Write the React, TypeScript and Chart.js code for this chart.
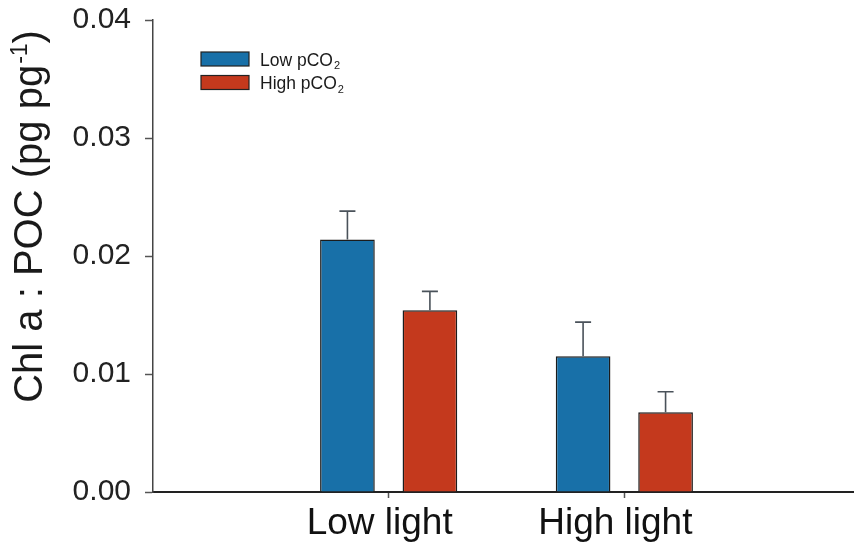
import React, { useEffect, useRef } from "react";
import { Chart, registerables } from "chart.js";

Chart.register(...registerables);

const categories = ["", "Low light", "High light", ""];
const seriesNames = ["Low pCO₂", "High pCO₂"];
const lowCO2 = [null, 0.0214, 0.0115, null];
const highCO2 = [null, 0.0154, 0.00675, null];
const lowCO2Err = [null, 0.0024, 0.0029, null];
const highCO2Err = [null, 0.0016, 0.00175, null];
const yTicks = [0, 0.01, 0.02, 0.03, 0.04];
const yTitle = "Chl a : POC (pg pg⁻¹)";

const FONT = "'Helvetica Neue', Helvetica, 'Liberation Sans', Arial, sans-serif";
const BLUE = "#1870A8";
const RED = "#C4391D";

const errorBarPlugin = {
  id: "errorBars",
  afterDatasetsDraw(chart: any) {
    const ctx = chart.ctx;
    const yScale = chart.scales.y;
    const errs = [lowCO2Err, highCO2Err];
    ctx.save();
    ctx.strokeStyle = "#4a525a";
    ctx.lineWidth = 1.6;
    chart.data.datasets.forEach((ds: any, di: number) => {
      const meta = chart.getDatasetMeta(di);
      meta.data.forEach((el: any, i: number) => {
        const v = ds.data[i];
        const e = errs[di][i];
        if (v == null || e == null) return;
        const yTop = yScale.getPixelForValue(v + e);
        const yBar = yScale.getPixelForValue(v);
        ctx.beginPath();
        ctx.moveTo(el.x, yBar);
        ctx.lineTo(el.x, yTop);
        ctx.moveTo(el.x - 8, yTop);
        ctx.lineTo(el.x + 8, yTop);
        ctx.stroke();
      });
    });
    ctx.restore();
  },
};

function drawScripted(ctx: any, text: string, x: number, y: number, size: number) {
  const parts: { t: string; mode: string }[] = [];
  let buf = "";
  for (const ch of text) {
    if (ch === "₂") {
      if (buf) parts.push({ t: buf, mode: "n" });
      buf = "";
      parts.push({ t: "2", mode: "sub" });
    } else if (ch === "⁻" || ch === "¹") {
      if (buf) parts.push({ t: buf, mode: "n" });
      buf = "";
      const last = parts[parts.length - 1];
      const c = ch === "⁻" ? "-" : "1";
      if (last && last.mode === "sup") last.t += c;
      else parts.push({ t: c, mode: "sup" });
    } else buf += ch;
  }
  if (buf) parts.push({ t: buf, mode: "n" });
  let cx = x;
  for (const p of parts) {
    if (p.mode === "n") {
      ctx.font = `${size}px ${FONT}`;
      ctx.fillText(p.t, cx, y);
      cx += ctx.measureText(p.t).width;
    } else if (p.mode === "sub") {
      ctx.font = `${Math.round(size * 0.62)}px ${FONT}`;
      ctx.fillText(p.t, cx + 1, y + size * 0.22);
      cx += ctx.measureText(p.t).width + 1;
    } else {
      ctx.font = `${Math.round(size * 0.58)}px ${FONT}`;
      ctx.fillText(p.t, cx + 1, y - size * 0.38);
      cx += ctx.measureText(p.t).width + 1;
    }
  }
  return cx;
}

const textPlugin = {
  id: "customText",
  afterDraw(chart: any) {
    const ctx = chart.ctx;
    const area = chart.chartArea;
    ctx.save();
    ctx.fillStyle = "#1a1a1a";
    ctx.textBaseline = "alphabetic";
    ctx.textAlign = "left";
    // y-axis title
    ctx.save();
    ctx.translate(42, area.top + (area.bottom - area.top) * 0.811);
    ctx.rotate(-Math.PI / 2);
    drawScripted(ctx, yTitle, 0, 0, 40);
    ctx.restore();
    // legend
    chart.data.datasets.forEach((ds: any, i: number) => {
      const bx = area.left + 48;
      const by = area.top + 32 + i * 23.5;
      ctx.fillStyle = ds.backgroundColor;
      ctx.fillRect(bx, by, 48, 14);
      ctx.strokeStyle = "#222";
      ctx.lineWidth = 1.2;
      ctx.strokeRect(bx, by, 48, 14);
      ctx.fillStyle = "#1a1a1a";
      drawScripted(ctx, ds.label, bx + 59, by + 13.5, 17.5);
    });
    ctx.restore();
  },
};

export default function App() {
  const ref = useRef<HTMLCanvasElement | null>(null);
  useEffect(() => {
    if (!ref.current) return;
    const chart = new Chart(ref.current, {
      type: "bar",
      data: {
        labels: categories,
        datasets: [
          {
            label: seriesNames[0],
            data: lowCO2 as any,
            backgroundColor: BLUE,
            borderColor: "#1c1c1c",
            borderWidth: 1.5,
            categoryPercentage: 0.7,
            barPercentage: 0.663,
          },
          {
            label: seriesNames[1],
            data: highCO2 as any,
            backgroundColor: RED,
            borderColor: "#1c1c1c",
            borderWidth: 1.5,
            categoryPercentage: 0.7,
            barPercentage: 0.663,
          },
        ],
      },
      options: {
        responsive: false,
        animation: false,
        layout: { padding: { top: 20, right: 0, left: 0, bottom: 0 } },
        plugins: { legend: { display: false }, tooltip: { enabled: false } },
        scales: {
          x: {
            type: "category",
            offset: false,
            grid: {
              offset: false,
              drawOnChartArea: false,
              drawTicks: true,
              tickLength: 6,
              tickColor: (c: any) => (categories[c.index] ? "#555" : "rgba(0,0,0,0)"),
              tickWidth: 1.5,
            },
            border: { color: "#222", width: 2 },
            ticks: {
              autoSkip: false,
              maxRotation: 0,
              labelOffset: -9,
              padding: 4,
              color: "#111",
              font: { family: FONT, size: 37 },
            },
            afterFit: (s: any) => {
              s.height = 54;
            },
          },
          y: {
            min: 0,
            max: 0.04,
            afterBuildTicks: (s: any) => {
              s.ticks = yTicks.map((v) => ({ value: v }));
            },
            grid: {
              drawOnChartArea: false,
              drawTicks: true,
              tickLength: 8,
              tickColor: "#555",
              tickWidth: 1.5,
            },
            border: { color: "#444", width: 1.5 },
            ticks: {
              padding: 14,
              color: "#222",
              font: { family: FONT, size: 30, lineHeight: 0.2 },
              callback: (v: any) => Number(v).toFixed(2),
            },
            afterFit: (s: any) => {
              s.width = 153;
            },
          },
        },
      },
      plugins: [errorBarPlugin, textPlugin],
    });
    return () => chart.destroy();
  }, []);
  return (
    <div
      style={{
        position: "absolute",
        left: 0,
        top: 0,
        width: 854,
        height: 546,
        overflow: "hidden",
        background: "#fff",
      }}
    >
      <canvas ref={ref} width={864} height={546} style={{ width: 864, height: 546 }} />
    </div>
  );
}
